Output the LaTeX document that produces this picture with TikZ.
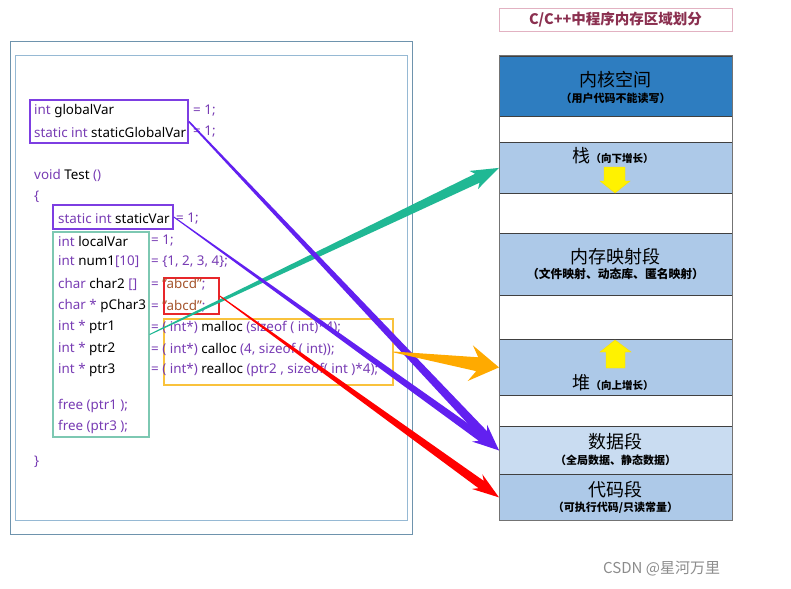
\documentclass[tikz,border=0pt]{standalone}
\usepackage{fontspec}
\setmainfont{Noto Sans}
\newfontfamily\cjk{Noto Sans CJK SC}
\usetikzlibrary{calc}
\definecolor{kwc}{RGB}{120,60,180}
\definecolor{strc}{RGB}{165,85,45}
\definecolor{outerb}{RGB}{110,147,173}
\definecolor{innerb}{RGB}{150,185,212}
\definecolor{purpbox}{RGB}{125,62,226}
\definecolor{greenbox}{RGB}{125,200,178}
\definecolor{redbox}{RGB}{232,38,42}
\definecolor{yelbox}{RGB}{249,194,60}
\definecolor{arrpurp}{RGB}{98,32,240}
\definecolor{arrteal}{RGB}{32,184,148}
\definecolor{arrorange}{RGB}{255,170,0}
\definecolor{arrred}{RGB}{255,0,0}
\definecolor{kernelc}{RGB}{46,125,192}
\definecolor{segc}{RGB}{173,201,232}
\definecolor{datac}{RGB}{201,220,241}
\definecolor{titlec}{RGB}{139,48,80}
\definecolor{titleb}{RGB}{226,178,194}
\newcommand\kwd[1]{\textcolor{kwc}{#1}}
\newcommand\strg[1]{\textcolor{strc}{#1}}
% color, start, end, half-width start, half-width shaft end, half-width barb, head length, barb distance
\newcommand\taper[8]{%
  \path ($(#3)!#7!(#2)$) coordinate (tpH) ($(#3)!#8!(#2)$) coordinate (tpB);
  \fill[#1] ($(#2)!#4!90:(#3)$) -- ($(tpH)!#5!90:(#3)$) -- ($(tpB)!#6!90:(#3)$) -- (#3)
    -- ($(tpB)!#6!-90:(#3)$) -- ($(tpH)!#5!-90:(#3)$) -- ($(#2)!#4!-90:(#3)$) -- cycle;}
\tikzset{
  code/.style={anchor=west, inner sep=0pt, font=\fontsize{13.4}{15}\selectfont},
  cbox/.style={draw, line width=1.6pt, inner sep=0pt},
  seg/.style={draw=black!75, line width=0.8pt, minimum width=233, inner sep=0pt, anchor=north west},
  segtitle/.style={font=\cjk\fontsize{18}{20}\selectfont, inner sep=0pt},
  segsub/.style={font=\cjk\bfseries\fontsize{11}{12}\selectfont, inner sep=0pt},
  yarrow/.style={fill=yellow, draw=yellow!80!orange, line width=0.4pt},
}
\begin{document}
\begin{tikzpicture}[x=1pt,y=-1pt]
\useasboundingbox (0,0) rectangle (791,588);
\fill[white] (0,0) rectangle (791,588);
% left frames
\draw[outerb, line width=1pt] (10,42) rectangle (412,534);
\draw[innerb, line width=1pt] (15,56) rectangle (407,520);
% code boxes
\node[cbox, draw=purpbox, minimum width=158, minimum height=43] (glob) at (109,121.5) {};
\node[cbox, draw=purpbox, minimum width=120, minimum height=24] (svar) at (113,217) {};
\node[cbox, draw=greenbox, line width=1.2pt, minimum width=96, minimum height=205] (loc) at (101,334.5) {};
\node[cbox, draw=redbox, minimum width=55, minimum height=36] (strs) at (191.5,296) {};
\node[cbox, draw=yelbox, minimum width=229, minimum height=66] (hbox) at (278.5,352) {};
% code text
\node[code] (l1) at (34,111) {\kwd{int} globalVar};
\node[code] (e1) at (193,111) {\kwd{= 1;}};
\node[code] (l2) at (34,132) {\kwd{static int} staticGlobalVar};
\node[code] (e2) at (193,132) {\kwd{= 1;}};
\node[code] (l3) at (34,175) {\kwd{void} Test \kwd{()}};
\node[code] (l4) at (34,197) {\kwd{\{}};
\node[code] (l5) at (58,219) {\kwd{static int} staticVar};
\node[code] (e5) at (176,219) {\kwd{= 1;}};
\node[code] (l6) at (58,241) {\kwd{int} localVar};
\node[code] (e6) at (151,241) {\kwd{= 1;}};
\node[code] (l7) at (58,262) {\kwd{int} num1\kwd{[10]}};
\node[code] (e7) at (151,262) {\kwd{= \{1, 2, 3, 4\};}};
\node[code] (l8) at (58,284) {\kwd{char} char2 \kwd{[]}};
\node[code] (e8) at (151,284) {\kwd{=} \strg{"abcd"}\kwd{;}};
\node[code] (l9) at (58,306) {\kwd{char} \kwd{*} pChar3};
\node[code] (e9) at (151,306) {\kwd{=} \strg{"abcd"}\kwd{;}};
\node[code] (l10) at (58,327) {\kwd{int *} ptr1};
\node[code] (e10) at (151,327) {\kwd{= ( int*)} malloc \kwd{(sizeof ( int)*4);}};
\node[code] (l11) at (58,349) {\kwd{int *} ptr2};
\node[code] (e11) at (151,349) {\kwd{= ( int*)} calloc \kwd{(4, sizeof ( int));}};
\node[code] (l12) at (58,370) {\kwd{int *} ptr3};
\node[code] (e12) at (151,370) {\kwd{= ( int*)} realloc \kwd{(ptr2 , sizeof( int )*4);}};
\node[code] (l13) at (58,406) {\kwd{free (ptr1 );}};
\node[code] (l14) at (58,427) {\kwd{free (ptr3 );}};
\node[code] (l15) at (34,462) {\kwd{\}}};
% title
\node[draw=titleb, line width=0.8pt, minimum width=233, minimum height=23, inner sep=0pt,
      font=\cjk\bfseries\fontsize{14.5}{16}\selectfont, text=titlec] (title) at (615.5,19.5) {C/C++中程序内存区域划分};
% segments
\node[seg, fill=kernelc, minimum height=60] (kernel) at (499,56) {};
\node[seg, fill=white, minimum height=26] (gap1) at (499,116) {};
\node[seg, fill=segc, minimum height=51] (stack) at (499,142) {};
\node[seg, fill=white, minimum height=40] (gap2) at (499,193) {};
\node[seg, fill=segc, minimum height=62] (mmap) at (499,233) {};
\node[seg, fill=white, minimum height=44] (gap3) at (499,295) {};
\node[seg, fill=segc, minimum height=56] (heap) at (499,339) {};
\node[seg, fill=white, minimum height=31] (gap4) at (499,395) {};
\node[seg, fill=datac, minimum height=48] (data) at (499,426) {};
\node[seg, fill=segc, minimum height=46] (code) at (499,474) {};
\draw[black!55, line width=1pt] (kernel.north west) rectangle (code.south east);
% segment labels
\node[segtitle] (kt) at (615.5,80) {内核空间};
\node[segsub] (ks) at (615.5,98) {（用户代码不能读写）};
\node[inner sep=0pt] (st) at (613,156) {{\cjk\fontsize{18}{20}\selectfont 栈}{\cjk\bfseries\fontsize{10.5}{12}\selectfont （向下增长）}};
\node[segtitle] (mt) at (615.5,257) {内存映射段};
\node[segsub, font=\cjk\bfseries\fontsize{11.8}{13}\selectfont] (ms) at (615.5,274) {（文件映射、动态库、匿名映射）};
\node[inner sep=0pt] (ht) at (613,383) {{\cjk\fontsize{18}{20}\selectfont 堆}{\cjk\bfseries\fontsize{10.5}{12}\selectfont （向上增长）}};
\node[segtitle] (dt) at (615.5,442) {数据段};
\node[segsub] (ds) at (615.5,460) {（全局数据、静态数据）};
\node[segtitle] (ct) at (615.5,490) {代码段};
\node[segsub] (cs) at (615.5,508) {（可执行代码/只读常量）};
% yellow growth arrows
\fill[yarrow] (604,167) -- (625,167) -- (625,181) -- (630,181) -- (615,193) -- (600,181) -- (604,181) -- cycle;
\fill[yarrow] (606,368) -- (625,368) -- (625,352) -- (631,352) -- (615,340) -- (600,352) -- (606,352) -- cycle;
% tapered arrows
\taper{arrteal}{loc.east}{stack.west}{0.5pt}{5pt}{10pt}{24pt}{28pt}
\taper{arrpurp}{glob.east}{data.west}{0.8pt}{4.5pt}{9pt}{22pt}{27pt}
\taper{arrpurp}{svar.east}{data.west}{0.5pt}{4pt}{8.5pt}{22pt}{27pt}
\taper{arrred}{strs.east}{code.west}{0.5pt}{4.5pt}{9pt}{22pt}{27pt}
\taper{arrorange}{hbox.east}{heap.west}{0.5pt}{7pt}{18pt}{22pt}{29pt}
% watermark
\node[anchor=west, inner sep=0pt, text=black!45, font=\cjk\fontsize{15}{16}\selectfont] (wm) at (603,569) {CSDN @星河万里};
\end{tikzpicture}
\end{document}
